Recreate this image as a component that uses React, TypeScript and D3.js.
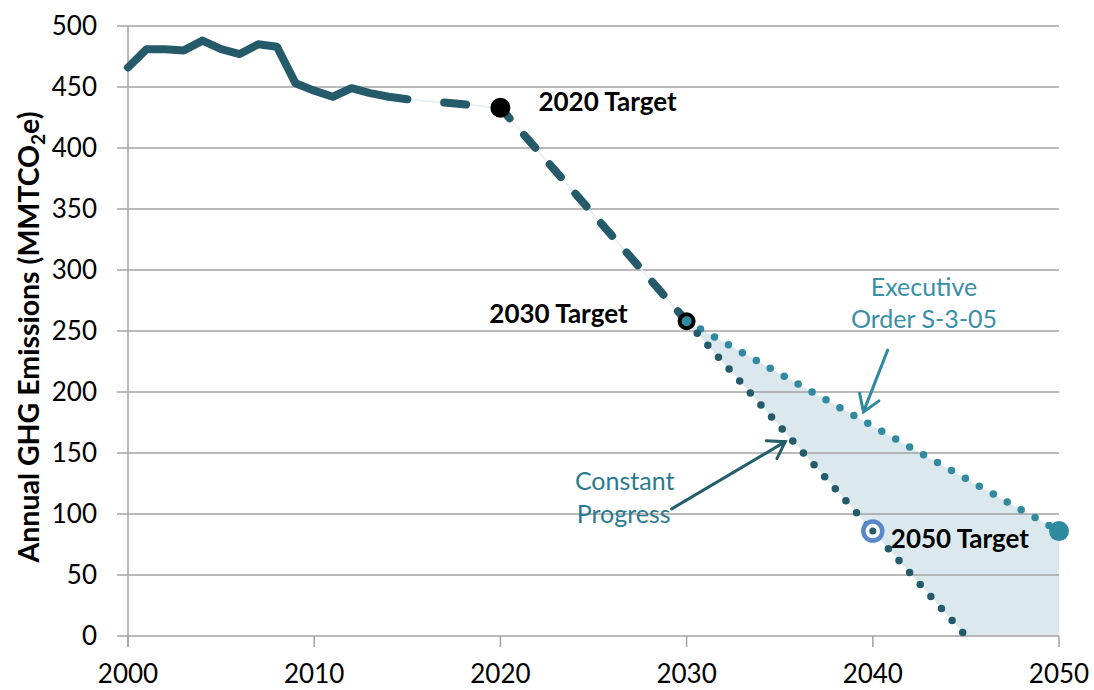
import React from 'react';
import { scaleLinear, line } from 'd3';

// historic inventory (solid)
const histYears = [2000, 2001, 2002, 2003, 2004, 2005, 2006, 2007, 2008, 2009, 2010, 2011, 2012, 2013, 2014, 2015];
const histValues = [466, 481, 481, 480, 488, 481, 477, 485, 483, 453, 447, 442, 449, 445, 442, 440];

// dashed path to the targets
const trendYears = [2015, 2020];
const trendValues = [440, 433];
const pathYears = [2020, 2030];
const pathValues = [433, 258];

// two scenarios after 2030
const cpYears = [2030, 2040, 2045];
const cpValues = [258, 86, 0];
const eoYears = [2030, 2050];
const eoValues = [258, 86];

const yTicks = [0, 50, 100, 150, 200, 250, 300, 350, 400, 450, 500];
const xTicks = [2000, 2010, 2020, 2030, 2040, 2050];

const W = 1094, H = 690;
const margin = { top: 26, right: 35, bottom: 54, left: 128 };

const x = scaleLinear().domain([2000, 2050]).range([margin.left, W - margin.right]);
const y = scaleLinear().domain([0, 500]).range([H - margin.bottom, margin.top]);

const FONT = 'Lato, "Open Sans", sans-serif';
const DARK = '#245a69';
const EO = '#318aa0';
const GRID = '#a3a3a3';

const toPts = (ys: number[], vs: number[]) => ys.map((yr, i) => [yr, vs[i]] as [number, number]);
const lineGen = line<[number, number]>().x(d => x(d[0])).y(d => y(d[1]));

// arrow given in data units
const arrow = (y1: number, v1: number, y2: number, v2: number) => {
  const x1 = x(y1), py1 = y(v1), x2 = x(y2), py2 = y(v2);
  const a = Math.atan2(py2 - py1, x2 - x1);
  const len = 19, sp = 0.58;
  const w1 = [x2 - len * Math.cos(a - sp), py2 - len * Math.sin(a - sp)];
  const w2 = [x2 - len * Math.cos(a + sp), py2 - len * Math.sin(a + sp)];
  return `M${x1},${py1}L${x2},${py2}M${w1[0]},${w1[1]}L${x2},${py2}L${w2[0]},${w2[1]}`;
};

export default function App() {
  const hist = toPts(histYears, histValues);
  const trend = toPts(trendYears, trendValues);
  const path = toPts(pathYears, pathValues);
  const cp = toPts(cpYears, cpValues);
  const eo = toPts(eoYears, eoValues);

  const band = [...eo, [2050, 0] as [number, number], ...cp.slice().reverse()];
  const bandPath = lineGen(band) + 'Z';

  return (
    <svg width={W} height={H} style={{ position: 'absolute', left: 0, top: 0, background: '#fff' }}>
      {/* shaded range between scenarios */}
      <path d={bandPath} fill="#dbe8ed" />

      {/* grid */}
      {yTicks.map(t => (
        <line key={t} x1={margin.left - 11} x2={x(2050)} y1={y(t)} y2={y(t)} stroke={GRID} strokeWidth={1.5} />
      ))}
      <line x1={x(2000)} x2={x(2000)} y1={y(500)} y2={y(0) + 11} stroke={GRID} strokeWidth={1.5} />
      {xTicks.map(t => (
        <line key={t} x1={x(t)} x2={x(t)} y1={y(0)} y2={y(0) + 11} stroke={GRID} strokeWidth={1.5} />
      ))}

      {/* tick labels */}
      {yTicks.map(t => (
        <text key={t} x={97} y={y(t)} dy="0.36em" textAnchor="end" fontFamily={FONT} fontSize={26} fill="#000">{t}</text>
      ))}
      {xTicks.map(t => (
        <text key={t} x={x(t)} y={683} textAnchor="middle" fontFamily={FONT} fontSize={26} fill="#000">{t}</text>
      ))}

      {/* axis title */}
      <text transform={`translate(39,${(y(0) + y(500)) / 2 + 6}) rotate(-90)`} textAnchor="middle"
        fontFamily={FONT} fontSize={28.5} fontWeight={700} fill="#000">
        Annual GHG Emissions (MMTCO<tspan fontSize={19} dy={6}>2</tspan><tspan dy={-6}>e)</tspan>
      </text>

      {/* scenario dotted lines */}
      <path d={lineGen(eo)!} fill="none" stroke={EO} strokeWidth={7.5} strokeLinecap="round" strokeDasharray="0 16" />
      <path d={lineGen(cp)!} fill="none" stroke={DARK} strokeWidth={7.5} strokeLinecap="round" strokeDasharray="0 16" />

      {/* faint connector + dashes */}
      <path d={lineGen([...trend, ...path.slice(1)])!} fill="none" stroke="#e3eef1" strokeWidth={1.5} />
      <path d={lineGen(trend)!} fill="none" stroke={DARK} strokeWidth={8} strokeLinecap="round"
        strokeDasharray="22 78" strokeDashoffset={63} />
      <path d={lineGen(path)!} fill="none" stroke={DARK} strokeWidth={8} strokeLinecap="round"
        strokeDasharray="17 22" strokeDashoffset={3} />

      {/* historic */}
      <path d={lineGen(hist)!} fill="none" stroke={DARK} strokeWidth={8} strokeLinejoin="round" strokeLinecap="round" />

      {/* target markers */}
      <circle cx={x(2020)} cy={y(433)} r={10} fill="#000" />
      <circle cx={x(2030)} cy={y(258)} r={7} fill="#2e8ba0" stroke="#000" strokeWidth={4} />
      <circle cx={x(2040)} cy={y(86)} r={9.5} fill="#fff" stroke="#5a87c6" strokeWidth={4.5} />
      <circle cx={x(2040)} cy={y(86)} r={3.5} fill={DARK} />
      <circle cx={x(2050)} cy={y(86)} r={10} fill="#2e8a9e" />

      {/* target labels */}
      <text x={x(2020) + 38} y={y(433) + 3} fontFamily={FONT} fontSize={26} fontWeight={700} fill="#000">2020 Target</text>
      <text x={x(2030) - 59} y={y(258) + 2} textAnchor="end" fontFamily={FONT} fontSize={26} fontWeight={700} fill="#000">2030 Target</text>
      <text x={x(2040) + 18} y={y(86) + 17} fontFamily={FONT} fontSize={26} fontWeight={700} fill="#000">2050 Target</text>

      {/* annotations */}
      <text x={x(2042.75)} y={y(279)} textAnchor="middle" fontFamily={FONT} fontSize={25} fill="#3a8fa8">Executive</text>
      <text x={x(2042.75)} y={y(252.5)} textAnchor="middle" fontFamily={FONT} fontSize={25} fill="#3a8fa8">Order S-3-05</text>
      <path d={arrow(2040.8, 234.4, 2039.5, 183.7)} fill="none" stroke="#2e88a0" strokeWidth={3} strokeLinecap="round" />

      <text x={x(2024.0)} y={y(119.8)} fontFamily={FONT} fontSize={25} fill="#2b7a90">Constant</text>
      <text x={x(2024.1)} y={y(92.8)} fontFamily={FONT} fontSize={25} fill="#2b7a90">Progress</text>
      <path d={arrow(2029.2, 104.2, 2035.3, 159.3)} fill="none" stroke="#245e6c" strokeWidth={3} strokeLinecap="round" />
    </svg>
  );
}
